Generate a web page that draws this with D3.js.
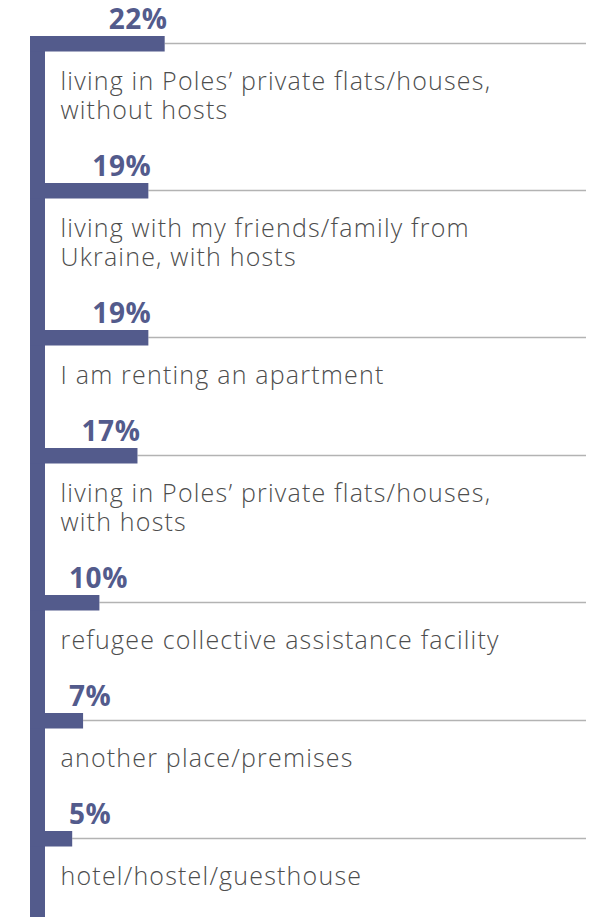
<!DOCTYPE html>
<html>
<head>
<meta charset="utf-8">
<script src="https://cdn.jsdelivr.net/npm/d3@7"></script>
<style>
  html, body { margin: 0; padding: 0; background: #ffffff; }
  svg { display: block; }
</style>
</head>
<body>
<div id="chart"></div>
<script>
// Where respondents are currently living (share of answers, %)
const categories = [
  ["living in Poles\u2019 private flats/houses,", "without hosts"],
  ["living with my friends/family from", "Ukraine, with hosts"],
  ["I am renting an apartment"],
  ["living in Poles\u2019 private flats/houses,", "with hosts"],
  ["refugee collective assistance facility"],
  ["another place/premises"],
  ["hotel/hostel/guesthouse"]
];
const values = [22, 19, 19, 17, 10, 7, 5];
const valueLabels = ["22%", "19%", "19%", "17%", "10%", "7%", "5%"];

const W = 595, H = 917;
const accent = "#535b8c";
const textColor = "#4d4d4d";
const ruleColor = "#b3b3b3";

const spineX0 = 30, spineX1 = 45;   // vertical spine
const barH = 15.5;
const firstTop = 36;
const rowBase = 118, lineStep = 29;
const ruleEnd = 586;

const x = d3.scaleLinear().domain([0, 100]).range([spineX1, spineX1 + 544]);

// vertical offsets of each row, stacked by number of text lines
const tops = [];
let acc = firstTop;
categories.forEach((lines, i) => {
  tops.push(acc);
  acc += rowBase + lineStep * (lines.length - 1);
});

const rows = values.map((v, i) => ({
  value: v, label: valueLabels[i], lines: categories[i], top: tops[i]
}));

const svg = d3.select("#chart").append("svg")
  .attr("width", W).attr("height", H);

// spine
svg.append("rect")
  .attr("x", spineX0).attr("y", firstTop)
  .attr("width", spineX1 - spineX0).attr("height", H - firstTop)
  .attr("fill", accent);

const g = svg.selectAll("g.row").data(rows).join("g").attr("class", "row");

// thin rule after each bar
g.append("line")
  .attr("x1", d => x(d.value)).attr("x2", ruleEnd)
  .attr("y1", d => d.top + 7.5).attr("y2", d => d.top + 7.5)
  .attr("stroke", ruleColor).attr("stroke-width", 1.5);

// bars
g.append("rect")
  .attr("x", spineX0)
  .attr("y", d => d.top)
  .attr("width", d => x(d.value) - spineX0)
  .attr("height", barH)
  .attr("fill", accent);

// value labels, right-aligned to bar end but never closer than the minimum indent
g.append("text")
  .attr("class", "val")
  .attr("y", d => d.top - 7.5)
  .attr("font-family", "'Open Sans', 'DejaVu Sans', sans-serif")
  .attr("font-weight", 700)
  .attr("font-size", 28)
  .attr("letter-spacing", 0.6)
  .attr("fill", accent)
  .text(d => d.label)
  .each(function(d) {
    const w = this.getComputedTextLength();
    const start = Math.max(x(d.value) + 3 - w, 69);
    d3.select(this).attr("x", start);
  });

// category text
g.append("text")
  .attr("font-family", "'Open Sans', 'DejaVu Sans', sans-serif")
  .attr("font-weight", 300)
  .attr("font-size", 25)
  .attr("letter-spacing", 1.2)
  .attr("fill", textColor)
  .attr("y", d => d.top + 54)
  .selectAll("tspan")
  .data(d => d.lines)
  .join("tspan")
  .attr("x", 60.5)
  .attr("dy", (t, i) => i === 0 ? 0 : lineStep)
  .text(t => t);
</script>
</body>
</html>
